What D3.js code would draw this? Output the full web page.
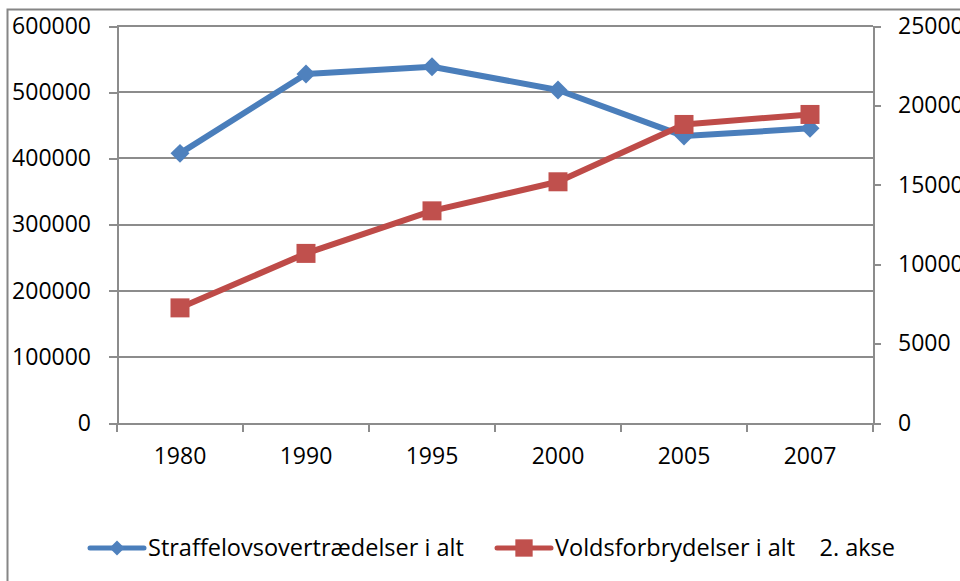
<!DOCTYPE html>
<meta charset="utf-8">
<style>
body { margin: 0; background: #fff; }
svg text { font-family: "Open Sans", Lato, sans-serif; fill: #000; }
.grid line { stroke: #8c8c8c; stroke-width: 2; shape-rendering: crispEdges; }
.axis path, .axis line { stroke: #8c8c8c; stroke-width: 2; shape-rendering: crispEdges; }
.axis text { font-size: 23px; }
</style>
<body>
<svg width="960" height="581"></svg>
<script src="https://cdnjs.cloudflare.com/ajax/libs/d3/7.8.5/d3.min.js"></script>
<script>

// data
var years = ["1980", "1990", "1995", "2000", "2005", "2007"];
var straffelov = [407500, 527400, 538500, 503200, 433600, 445300];
var vold = [7250, 10680, 13360, 15190, 18800, 19430];
var leftTicks = [0, 100000, 200000, 300000, 400000, 500000, 600000];
var rightTicks = [0, 5000, 10000, 15000, 20000, 25000];
var seriesNames = ["Straffelovsovertrædelser i alt", "Voldsforbrydelser i alt    2. akse"];

var svg = d3.select("svg"),
    plot = {left: 117, right: 873, top: 26, bottom: 423};

// outer chart border
svg.append("rect")
    .attr("x", 7.5).attr("y", 9.5)
    .attr("width", 1000).attr("height", 1000)
    .attr("fill", "none")
    .attr("stroke", "#868686")
    .attr("stroke-width", 2);

var x = d3.scaleBand().domain(years).range([plot.left, plot.right]).padding(0),
    yL = d3.scaleLinear().domain([0, 600000]).range([plot.bottom, plot.top]),
    yR = d3.scaleLinear().domain([0, 25000]).range([plot.bottom, plot.top]);

// horizontal gridlines (left axis)
svg.append("g").attr("class", "grid")
  .selectAll("line").data(leftTicks.slice(1)).enter().append("line")
    .attr("x1", plot.left).attr("x2", plot.right)
    .attr("y1", function(d) { return yL(d); })
    .attr("y2", function(d) { return yL(d); });

// left axis
svg.append("g").attr("class", "axis")
    .attr("transform", "translate(" + plot.left + ",0)")
    .call(d3.axisLeft(yL).tickValues(leftTicks).tickSize(8).tickSizeOuter(0).tickPadding(18).tickFormat(d3.format("d")));

// right axis
svg.append("g").attr("class", "axis")
    .attr("transform", "translate(" + plot.right + ",0)")
    .call(d3.axisRight(yR).tickValues(rightTicks).tickSize(8).tickSizeOuter(0).tickPadding(17).tickFormat(d3.format("d")));

// x axis, ticks between categories
var xg = svg.append("g").attr("class", "axis")
    .attr("transform", "translate(0," + plot.bottom + ")")
    .call(d3.axisBottom(x).tickSize(0).tickPadding(25));
xg.selectAll(".sep").data(years.concat(["end"])).enter().append("line")
    .attr("class", "sep")
    .attr("x1", function(d, i) { return plot.left + i * x.bandwidth(); })
    .attr("x2", function(d, i) { return plot.left + i * x.bandwidth(); })
    .attr("y1", 0).attr("y2", 9);
xg.selectAll(".tick text").attr("dy", "0.71em");

var cx = function(d, i) { return x(years[i]) + x.bandwidth() / 2; };

var line1 = d3.line().x(cx).y(function(d) { return yL(d); });
var line2 = d3.line().x(cx).y(function(d) { return yR(d); });

var blue = "#4a7ebb", red = "#be4b48";

svg.append("path").datum(straffelov)
    .attr("d", line1).attr("fill", "none")
    .attr("stroke", blue).attr("stroke-width", 6).attr("stroke-linejoin", "round");
svg.append("g").selectAll("path").data(straffelov).enter().append("path")
    .attr("d", d3.symbol(d3.symbolSquare, 180))
    .attr("fill", "#4f81bd")
    .attr("transform", function(d, i) { return "translate(" + cx(d, i) + "," + yL(d) + ") rotate(45)"; });

svg.append("path").datum(vold)
    .attr("d", line2).attr("fill", "none")
    .attr("stroke", red).attr("stroke-width", 6).attr("stroke-linejoin", "round");
svg.append("g").selectAll("path").data(vold).enter().append("path")
    .attr("d", d3.symbol(d3.symbolSquare, 361))
    .attr("fill", "#c0504d")
    .attr("transform", function(d, i) { return "translate(" + cx(d, i) + "," + yR(d) + ")"; });

// legend
var legend = [
  {x: 90, color: blue, mark: "#4f81bd", sym: d3.symbol(d3.symbolSquare, 113), rot: 45, name: seriesNames[0]},
  {x: 497, color: red, mark: "#c0504d", sym: d3.symbol(d3.symbolSquare, 300), rot: 0, name: seriesNames[1]}
];
var lg = svg.append("g").selectAll("g").data(legend).enter().append("g")
    .attr("transform", function(d) { return "translate(" + d.x + ",548)"; });
lg.append("line").attr("x1", 0).attr("x2", 54).attr("y1", 0).attr("y2", 0)
    .attr("stroke", function(d) { return d.color; })
    .attr("stroke-width", 5).attr("stroke-linecap", "round");
lg.append("path").attr("d", function(d) { return d.sym(); })
    .attr("fill", function(d) { return d.mark; })
    .attr("transform", function(d) { return "translate(27,0) rotate(" + d.rot + ")"; });
lg.append("text").attr("x", 58).attr("dy", "0.35em")
    .style("font-size", "23.5px")
    .style("white-space", "pre")
    .attr("xml:space", "preserve")
    .text(function(d) { return d.name; });

</script>
</body>
